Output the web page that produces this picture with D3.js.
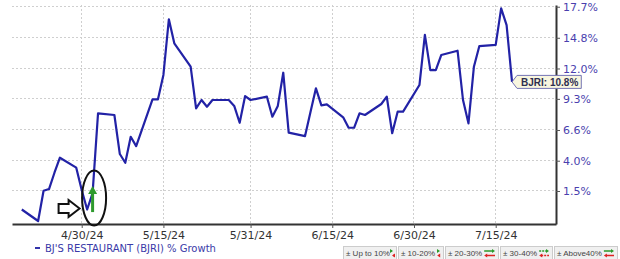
<!DOCTYPE html>
<html><head><meta charset="utf-8">
<script src="https://cdn.jsdelivr.net/npm/d3@7"></script>
<style>body{margin:0;background:#fff}svg{display:block}</style>
</head><body><svg id="c" width="620" height="259"></svg>
<script>
// ---- data ----
const dates = ["2024-04-19","2024-04-22","2024-04-23","2024-04-24","2024-04-25","2024-04-26",
  "2024-04-29","2024-04-30","2024-05-01","2024-05-02","2024-05-03",
  "2024-05-06","2024-05-07","2024-05-08","2024-05-09","2024-05-10",
  "2024-05-13","2024-05-14","2024-05-15","2024-05-16","2024-05-17",
  "2024-05-20","2024-05-21","2024-05-22","2024-05-23","2024-05-24",
  "2024-05-27","2024-05-28","2024-05-29","2024-05-30","2024-05-31",
  "2024-06-03","2024-06-04","2024-06-05","2024-06-06","2024-06-07",
  "2024-06-10","2024-06-11","2024-06-12","2024-06-13","2024-06-14",
  "2024-06-17","2024-06-18","2024-06-19","2024-06-20","2024-06-21",
  "2024-06-24","2024-06-25","2024-06-26","2024-06-27","2024-06-28",
  "2024-07-01","2024-07-02","2024-07-03","2024-07-04","2024-07-05",
  "2024-07-08","2024-07-09","2024-07-10","2024-07-11","2024-07-12",
  "2024-07-15","2024-07-16","2024-07-17","2024-07-18"];
const growth = [0.0,-0.92,1.52,1.66,3.0,4.25,
  3.42,1.58,0.0,1.33,8.04,
  7.89,4.56,3.83,6.02,5.23,
  9.26,9.26,11.42,16.52,14.29,
  12.16,8.47,9.20,8.61,9.20,
  9.20,8.68,7.22,9.55,9.20,
  9.49,7.74,8.68,11.62,6.37,
  6.08,8.15,10.23,8.73,8.82,
  7.69,6.79,6.79,8.04,7.89,
  8.85,9.49,6.32,8.18,8.18,
  10.52,15.06,11.86,11.86,13.22,
  13.61,9.20,7.17,12.16,14.04,
  14.14,17.55,15.98,10.80];
const yTicks = [1.5, 4.0, 6.6, 9.3, 12.0, 14.8, 17.7];
const xTicks = ["2024-04-30","2024-05-15","2024-05-31","2024-06-15","2024-06-30","2024-07-15"];
const seriesName = "BJ'S RESTAURANT (BJRI) % Growth";
const lastLabel = "BJRI: 10.8%";
const signalDate = "2024-05-02";
const bandLabels = ["\u00b1 Up to 10%", "\u00b1 10-20%", "\u00b1 20-30%", "\u00b1 30-40%", "\u00b1 Above40%"];
const yDomain = [-1.157, 17.863];

// ---- setup ----
const svg = d3.select("#c");
const parse = d3.utcParse("%Y-%m-%d");
const L = 12, R = 556, T = 5, B = 224;
const base = d3.scaleUtc().domain([parse(xTicks[0]), parse(xTicks[xTicks.length-1])]).range([81.7, 495.7]);
const x = d3.scaleUtc().domain([base.invert(L), base.invert(R)]).range([L, R]);
const yLog = d3.scaleLog().domain(yDomain.map(p => 1 + p/100)).range([B, T]);
const y = p => yLog(1 + p/100);
const data = dates.map((d,i) => ({date: parse(d), v: growth[i]}));

// gridlines
svg.append("g").selectAll("line").data(yTicks).join("line")
  .attr("x1", L).attr("x2", R).attr("y1", d => y(d)).attr("y2", d => y(d))
  .attr("stroke", "#cfcfcf").attr("stroke-dasharray", "2,2").attr("shape-rendering","crispEdges");
svg.append("g").selectAll("line").data(xTicks).join("line")
  .attr("x1", d => x(parse(d))).attr("x2", d => x(parse(d))).attr("y1", T).attr("y2", B)
  .attr("stroke", "#cfcfcf").attr("stroke-dasharray", "2,2").attr("shape-rendering","crispEdges");

// line
svg.append("path").datum(data)
  .attr("d", d3.line().x(d => x(d.date)).y(d => y(d.v)))
  .attr("fill", "none").attr("stroke", "#2222a6").attr("stroke-width", 2.2)
  .attr("stroke-linejoin", "round");

// axes
const ax = svg.append("g").attr("transform", `translate(0,${B})`)
  .call(d3.axisBottom(x).tickValues(xTicks.map(parse)).tickFormat(d3.utcFormat("%-m/%-d/%y"))
    .tickSize(4).tickSizeOuter(0).tickPadding(3));
ax.select(".domain").attr("stroke", "#333").attr("stroke-width", 2);
ax.selectAll(".tick line").attr("stroke", "#555");
ax.selectAll("text").attr("font-family", "DejaVu Sans, sans-serif").attr("font-size", 11).attr("fill", "#333");

const ay = svg.append("g").attr("transform", `translate(${R},0)`)
  .call(d3.axisRight(yLog).tickValues(yTicks.map(v => 1 + v/100))
    .tickFormat(d => ((d - 1) * 100).toFixed(1) + "%").tickSize(4).tickSizeOuter(0).tickPadding(3));
ay.select(".domain").attr("stroke", "#333").attr("stroke-width", 2);
ay.selectAll(".tick line").attr("stroke", "#555");
ay.selectAll("text").attr("font-family", "DejaVu Sans, sans-serif").attr("font-size", 11).attr("fill", "#4a3fae");

// last value label
const last = data[data.length-1];
const lx = x(last.date), ly = y(last.v);
const lg = svg.append("g");
const lt = lg.append("text").attr("x", lx + 9).attr("y", ly + 4)
  .attr("font-family", "Liberation Sans, Arial, sans-serif").attr("font-weight", "bold")
  .attr("font-size", 10).attr("fill", "#2e2e50").text(lastLabel);
const tw = lt.node().getComputedTextLength();
lg.insert("path", "text")
  .attr("d", `M${lx},${ly} L${lx+5},${ly-6.5} L${lx+12+tw},${ly-6.5} L${lx+12+tw},${ly+6.5} L${lx+5},${ly+6.5} Z`)
  .attr("fill", "#f8f6df").attr("stroke", "#7474b4").attr("stroke-width", 1);

// annotation: ellipse, green arrow, hollow pointer
const sd = data.find(d => +d.date === +parse(signalDate));
const sx = x(sd.date), sy = y(sd.v);
svg.append("ellipse").attr("cx", sx + 1.5).attr("cy", sy + 5).attr("rx", 12).attr("ry", 27.5)
  .attr("fill", "none").attr("stroke", "#111").attr("stroke-width", 2);
svg.append("line").attr("x1", sx).attr("x2", sx).attr("y1", sy + 19).attr("y2", sy)
  .attr("stroke", "#2e9a2e").attr("stroke-width", 3);
svg.append("path").attr("d", `M${sx-4.5},${sy+1} L${sx+4.5},${sy+1} L${sx},${sy-7} Z`).attr("fill", "#2e9a2e");
const px = sx - 13, py = sy + 15.5;
svg.append("path")
  .attr("d", `M${px},${py} L${px-11},${py-8.5} L${px-11},${py-4.5} L${px-21},${py-4.5} L${px-21},${py+4.5} L${px-11},${py+4.5} L${px-11},${py+8.5} Z`)
  .attr("fill", "#fff").attr("stroke", "#111").attr("stroke-width", 2).attr("stroke-linejoin", "miter");

// series legend
svg.append("line").attr("x1", 35).attr("x2", 40).attr("y1", 248).attr("y2", 248)
  .attr("stroke", "#3333aa").attr("stroke-width", 2);
svg.append("text").attr("x", 45).attr("y", 251.5)
  .attr("font-family", "DejaVu Sans, sans-serif").attr("font-size", 10).attr("fill", "#3a3aa8")
  .text(seriesName);

// band legend
const bw = [53, 45, 53, 52, 63];
let bx = 343;
bandLabels.forEach((lab, i) => {
  const g = svg.append("g").attr("transform", `translate(${bx},246)`);
  g.append("rect").attr("x", 0.5).attr("y", 0.5).attr("width", bw[i]).attr("height", 14)
    .attr("fill", "#f0f0f0").attr("stroke", "#cccccc");
  const t = g.append("text").attr("x", 3).attr("y", 9.5)
    .attr("font-family", "Liberation Sans Narrow, Liberation Sans, Arial, sans-serif")
    .attr("font-size", 8).attr("fill", "#444").text(lab);
  const w = t.node().getComputedTextLength();
  const ix0 = Math.max(w + 5, bw[i] - 16), ix1 = bw[i] - 3;
  const dash = i === 3 ? "2,1" : null;
  g.append("line").attr("x1", ix0).attr("x2", ix1 - 2).attr("y1", 5).attr("y2", 5)
    .attr("stroke", "#2a9a2a").attr("stroke-width", 1.5).attr("stroke-dasharray", dash);
  g.append("path").attr("d", `M${ix1},5 L${ix1-3},3 L${ix1-3},7 Z`).attr("fill", "#2a9a2a");
  g.append("line").attr("x1", ix0 + 2).attr("x2", ix1).attr("y1", 9.5).attr("y2", 9.5)
    .attr("stroke", "#d22").attr("stroke-width", 1.5).attr("stroke-dasharray", dash);
  g.append("path").attr("d", `M${ix0},9.5 L${ix0+3},7.5 L${ix0+3},11.5 Z`).attr("fill", "#d22");
  bx += bw[i] + 2;
});
</script>
</body></html>
